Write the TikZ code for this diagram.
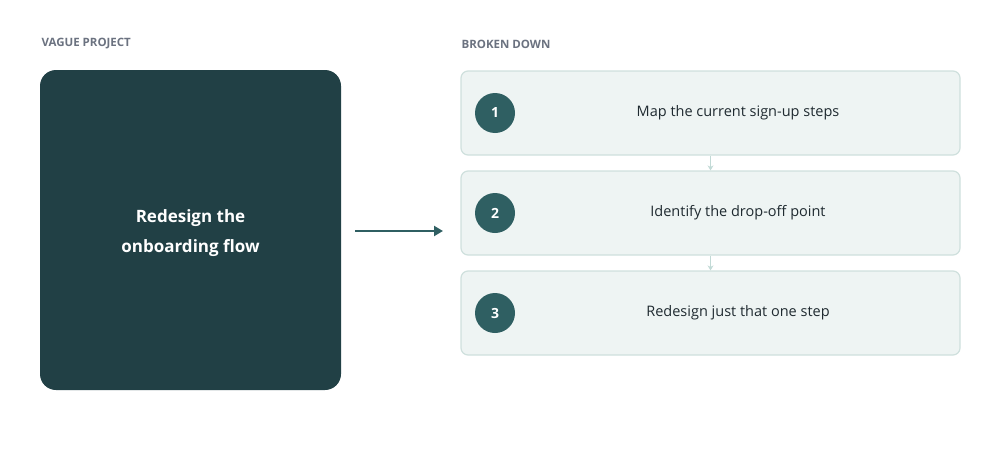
\documentclass[tikz,border=0pt]{standalone}
\usepackage{fontspec}
\setmainfont{Open Sans}
\usetikzlibrary{arrows.meta}
\definecolor{dark}{HTML}{214045}
\definecolor{teal}{HTML}{2F5F62}
\definecolor{boxfill}{HTML}{EEF4F3}
\definecolor{boxline}{HTML}{CFE0DD}
\definecolor{conn}{HTML}{C2DAD6}
\definecolor{hdr}{HTML}{6B7280}
\definecolor{txt}{HTML}{1F2A30}
\tikzset{
  hdr/.style={anchor=west,text=hdr,font=\fontsize{11.5}{14}\selectfont\bfseries},
  stepbox/.style={draw=boxline,line width=1.2pt,fill=boxfill,rounded corners=7pt,minimum width=499pt,minimum height=84pt,inner sep=0pt},
  num/.style={circle,fill=teal,minimum size=40pt,inner sep=0pt,text=white,font=\fontsize{14}{16}\selectfont\bfseries},
  stxt/.style={text=txt,font=\fontsize{14.5}{17}\selectfont},
  link/.style={draw=conn,line width=1.2pt,-{Stealth[length=5pt,width=6pt]}},
}
\begin{document}
\begin{tikzpicture}[x=1pt,y=-1pt]
\useasboundingbox (0,0) rectangle (1000,460);
\node[hdr] (h1) at (38,44) {VAGUE PROJECT};
\node[hdr] (h2) at (458,44) {BROKEN DOWN};
\node[fill=dark,rounded corners=16pt,minimum width=301pt,minimum height=320pt,inner sep=0pt] (big) at (190.5,230) {};
\node[text=white,align=center,font=\fontsize{17}{30}\selectfont\bfseries] (bigt) at (190.5,233) {Redesign the\\onboarding flow};
\coordinate (a1) at (355,231);
\coordinate (a2) at (443,231);
\draw[teal,line width=2.2pt,-{Stealth[length=9pt,width=10pt,inset=0pt]}] (a1) -- (a2);
\foreach \i/\y/\t in {1/113/Map the current sign-up steps,2/213/Identify the drop-off point,3/313/Redesign just that one step}{
  \node[stepbox] (s\i) at (710.5,\y) {};
  \node[num] (n\i) at (495,\y) {\i};
  \node[stxt] (t\i) at (738,\y) {\t};
}
\draw[link] (s1.south) -- (s2.north);
\draw[link] (s2.south) -- (s3.north);
\end{tikzpicture}
\end{document}
